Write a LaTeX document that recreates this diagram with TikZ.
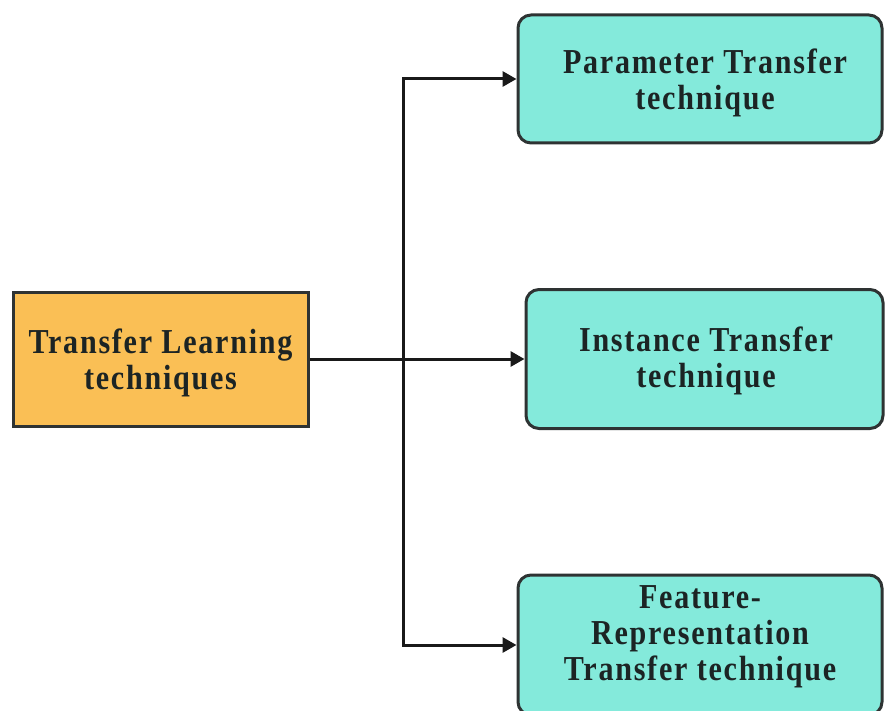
\documentclass[tikz,border=0pt]{standalone}
\usepackage{fontspec}
\setmainfont{Liberation Serif}
\usetikzlibrary{arrows.meta}
\definecolor{rootfill}{HTML}{FABF55}
\definecolor{leaffill}{HTML}{84EADB}
\definecolor{edgegray}{HTML}{2E3333}
\definecolor{inkdark}{HTML}{1C2424}
\newcommand{\boxfont}{\fontsize{35}{36}\selectfont\bfseries\addfontfeature{LetterSpace=5,FakeStretch=0.86}}
\tikzset{
  rootbox/.style={draw=edgegray, line width=3pt, fill=rootfill, rectangle, inner sep=0pt},
  leafbox/.style={draw=edgegray, line width=3pt, fill=leaffill, rectangle,
    rounded corners=13pt, inner sep=0pt},
  boxtext/.style={text=inkdark, align=center, font=\boxfont, inner sep=0pt},
  link/.style={draw=black!90, line width=3pt,
    -{Triangle[length=14pt,width=15pt]}}
}
\begin{document}
\begin{tikzpicture}[x=1pt,y=-1pt]
\useasboundingbox (0,0) rectangle (885,711);
\clip (0,0) rectangle (885,711);
\fill[white] (0,0) rectangle (885,711);

% root and the three technique boxes
\node[rootbox, minimum width=295pt, minimum height=134pt] (root) at (160.5,359) {};
\node[boxtext] (roottext) at (160.5,363) {Transfer Learning\\techniques};

\node[leafbox, minimum width=364pt, minimum height=128pt] (param) at (700,79) {};
\node[boxtext] (paramtext) at (705,83) {Parameter Transfer\\technique};

\node[leafbox, minimum width=357pt, minimum height=139pt] (inst) at (704.5,359) {};
\node[boxtext] (insttext) at (706,361) {Instance Transfer\\technique};

\node[leafbox, minimum width=364pt, minimum height=140pt] (feat) at (700,645) {};
\node[boxtext] (feattext) at (700,637) {Feature-\\Representation\\Transfer technique};

% branch point on the trunk line
\coordinate (split) at (403,359);

\draw[link] (root.east) -- (inst.west);
\draw[link] (split) |- (param.west);
\draw[link] (split) |- (feat.west);
\end{tikzpicture}
\end{document}
